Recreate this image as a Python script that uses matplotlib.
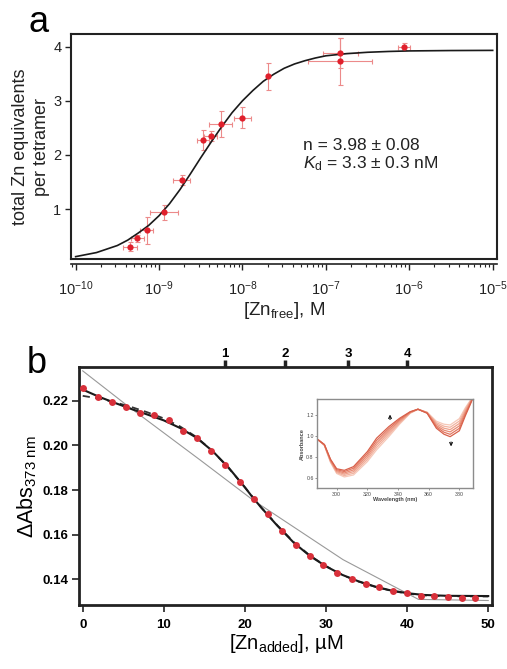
import numpy as np
import matplotlib
matplotlib.use("Agg")
import matplotlib.pyplot as plt
from matplotlib.ticker import LogLocator, NullFormatter, FormatStrFormatter, FixedLocator

plt.rcParams['font.family'] = ['Liberation Sans', 'DejaVu Sans']
plt.rcParams['mathtext.fontset'] = 'custom'
plt.rcParams['mathtext.rm'] = 'Liberation Sans'
plt.rcParams['mathtext.it'] = 'Liberation Sans:italic'
plt.rcParams['mathtext.bf'] = 'Liberation Sans:bold'

# ---------------- Panel a data ----------------
zn_free = [4.48e-10, 5.48e-10, 7.1e-10, 1.135e-9, 1.87e-9, 3.36e-9, 4.16e-9,
           5.47e-9, 9.95e-9, 2.0e-8, 1.48e-7, 1.48e-7, 8.65e-7]
zn_equiv = [0.31, 0.46, 0.61, 0.94, 1.54, 2.28, 2.35, 2.57, 2.69, 3.45, 3.88, 3.73, 4.00]
zn_equiv_err = [0.09, 0.06, 0.25, 0.14, 0.09, 0.18, 0.10, 0.24, 0.20, 0.25, 0.28, 0.43, 0.07]
zn_free_err_dec = [0.08, 0.078, 0.08, 0.168, 0.10, 0.076, 0.076, 0.14, 0.104, 0.0, 0.21, 0.38, 0.07]

fit_log_x = [-10, -9.75, -9.5, -9.375, -9.25, -9.125, -9.0, -8.875, -8.75, -8.625, -8.5,
             -8.375, -8.25, -8.125, -8.0, -7.875, -7.75, -7.625, -7.5, -7.375, -7.25,
             -7.125, -7.0, -6.75, -6.5, -6.25, -6.0, -5.5, -5.0]
fit_y = [0.125, 0.20, 0.33, 0.43, 0.56, 0.70, 0.88, 1.10, 1.36, 1.65, 1.95,
         2.24, 2.52, 2.78, 3.00, 3.19, 3.36, 3.49, 3.60, 3.68, 3.74,
         3.79, 3.83, 3.87, 3.895, 3.91, 3.92, 3.927, 3.93]

a_xticks = [1e-10, 1e-9, 1e-8, 1e-7, 1e-6, 1e-5]

# ---------------- Panel b data ----------------
zn_added = [0.0, 1.85, 3.6, 5.34, 7.06, 8.83, 10.64, 12.36, 14.1, 15.86, 17.6, 19.4,
            21.1, 22.8, 24.6, 26.3, 28.06, 29.66, 31.4, 33.16, 34.9, 36.56, 38.3,
            39.94, 41.67, 43.35, 45.0, 46.76, 48.4]
d_abs = [0.2256, 0.2217, 0.2194, 0.2172, 0.2146, 0.2135, 0.2112, 0.2066, 0.2034,
         0.1976, 0.1912, 0.1837, 0.1761, 0.1691, 0.1618, 0.1555, 0.1503, 0.1464,
         0.1430, 0.1403, 0.1379, 0.1364, 0.1348, 0.1337, 0.1325, 0.1327, 0.1321,
         0.1315, 0.1317]

fit1_x = [0, 2, 4, 6, 8, 10, 12, 14, 16, 18, 20, 21, 22, 24, 26, 28, 30, 32, 34,
          36, 38, 40, 42, 45, 50]
fit1_y = [0.2250, 0.2218, 0.2190, 0.2163, 0.2138, 0.2112, 0.2078, 0.2035, 0.1975,
          0.1900, 0.1812, 0.1765, 0.1722, 0.1640, 0.1565, 0.1505, 0.1458, 0.1420,
          0.1391, 0.1368, 0.1350, 0.1338, 0.1330, 0.1326, 0.1325]
fit2_x = [0, 2, 4, 6, 8, 10, 12, 14, 16, 18, 20, 22, 24, 26, 28, 30, 32, 34, 36,
          38, 40, 42, 45, 50]
fit2_y = [0.2222, 0.2210, 0.2193, 0.2172, 0.2148, 0.2121, 0.2085, 0.2038, 0.1975,
          0.1898, 0.1812, 0.1722, 0.1642, 0.1568, 0.1507, 0.1459, 0.1420, 0.1390,
          0.1367, 0.1349, 0.1336, 0.1328, 0.1324, 0.1323]
fit3_x = [0, 5.4, 14.5, 21.0, 32.1, 41.4, 50]
fit3_y = [0.2334, 0.2181, 0.1934, 0.1755, 0.1488, 0.1310, 0.1305]

top_tick_pos = [17.5, 25.0, 32.7, 40.0]
top_tick_labels = ['1', '2', '3', '4']

# inset spectra
wavelength = [288, 292, 296, 300, 305, 311, 320, 326, 334, 341, 348, 353, 359, 365,
              370, 374, 380, 384, 387, 390]
spec_0 = [0.963, 0.91, 0.75, 0.645, 0.612, 0.631, 0.757, 0.868, 0.994, 1.112, 1.216,
          1.254, 1.226, 1.140, 1.112, 1.105, 1.165, 1.270, 1.335, 1.40]
spec_1 = [0.963, 0.912, 0.756, 0.654, 0.625, 0.647, 0.776, 0.890, 1.013, 1.123, 1.219,
          1.254, 1.224, 1.127, 1.093, 1.083, 1.142, 1.255, 1.327, 1.40]
spec_2 = [0.963, 0.914, 0.762, 0.663, 0.638, 0.663, 0.795, 0.912, 1.032, 1.134, 1.222,
          1.254, 1.222, 1.114, 1.074, 1.061, 1.119, 1.240, 1.319, 1.40]
spec_3 = [0.963, 0.916, 0.768, 0.672, 0.650, 0.679, 0.814, 0.934, 1.051, 1.146, 1.225,
          1.254, 1.220, 1.100, 1.055, 1.039, 1.096, 1.225, 1.311, 1.40]
spec_4 = [0.963, 0.918, 0.774, 0.681, 0.663, 0.695, 0.833, 0.957, 1.070, 1.157, 1.228,
          1.254, 1.218, 1.087, 1.036, 1.016, 1.073, 1.210, 1.303, 1.40]
spec_5 = [0.963, 0.920, 0.780, 0.690, 0.675, 0.710, 0.852, 0.979, 1.089, 1.168, 1.231,
          1.254, 1.216, 1.074, 1.017, 0.994, 1.050, 1.195, 1.295, 1.40]
spectra = [spec_0, spec_1, spec_2, spec_3, spec_4, spec_5]
spec_colors = ['#f6c8b8', '#f2b3a0', '#eea08a', '#e88b74', '#e2765f', '#d8604a']

# ---------------- Figure ----------------
fig = plt.figure(figsize=(5.07, 6.69), dpi=100)

# ===== Panel a =====
axA = fig.add_axes([0.140, 0.613, 0.840, 0.336])
axA.set_xscale('log')
axA.set_xlim(10 ** -10.056, 10 ** -4.95)
axA.set_ylim(0.083, 4.23)

xf = np.array(zn_free)
dec = np.array(zn_free_err_dec)
xerr = [xf - xf * 10 ** (-dec), xf * 10 ** dec - xf]
axA.errorbar(zn_free, zn_equiv, yerr=zn_equiv_err, xerr=xerr, fmt='none',
             ecolor='#ec8a8a', elinewidth=0.8, capsize=1.8, capthick=0.8, zorder=2)
axA.plot(10 ** np.array(fit_log_x), fit_y, color='#1a1a1a', lw=1.2, zorder=3)
axA.plot(zn_free, zn_equiv, 'o', color='#e0202c', ms=4.5, mec='none', zorder=4)

axA.set_yticks([1, 2, 3, 4])
axA.xaxis.set_major_locator(FixedLocator(a_xticks))
axA.xaxis.set_minor_locator(LogLocator(base=10, subs=np.arange(2, 10), numticks=100))
axA.xaxis.set_minor_formatter(NullFormatter())
axA.tick_params(axis='both', which='major', direction='out', length=4, width=1.0,
                labelsize=10.5, color='#222222', labelcolor='#222222', pad=3)
axA.tick_params(axis='x', which='major', length=4.5, pad=6)
axA.tick_params(axis='x', which='minor', direction='out', length=2.5, width=0.8,
                color='#222222')
for s in axA.spines.values():
    s.set_linewidth(1.5)
    s.set_color('#222222')
# offset axis line below the frame (as in the reference)
axA.spines['bottom'].set_position(('outward', 4))
axA.spines['bottom'].set_linewidth(1.2)
axA.plot([0, 1], [0, 0], transform=axA.transAxes, color='#222222', lw=1.5,
         clip_on=False, zorder=5)

axA.set_ylabel('total Zn equivalents\nper tetramer', fontsize=13, color='#222222',
               labelpad=2, linespacing=1.3)
axA.set_xlabel(r'[Zn$_{\mathregular{free}}$], M', fontsize=13.5, color='#222222', labelpad=2)
axA.text(10 ** -7.275, 2.17, 'n = 3.98 ± 0.08', fontsize=12.5, color='#222222',
         va='center', ha='left')
axA.text(10 ** -7.275, 1.84, r'$\mathit{K}_{\mathregular{d}}$ = 3.3 ± 0.3 nM', fontsize=12.5,
         color='#222222', va='center', ha='left')
fig.text(28 / 507, 1 - 31.7 / 669, 'a', fontsize=26, va='baseline', ha='left')

# ===== Panel b =====
axB = fig.add_axes([0.1564, 0.0957, 0.8146, 0.3553])
axB.set_xlim(-0.42, 50.5)
axB.set_ylim(0.1285, 0.235)
axB.plot(fit3_x, fit3_y, color='#999999', lw=0.8, zorder=2)
axB.plot(fit2_x, fit2_y, color='#333333', lw=1.3, ls=(0, (4, 3)), zorder=3)
axB.plot(fit1_x, fit1_y, color='#1a1a1a', lw=1.5, zorder=3)
axB.plot(zn_added, d_abs, 'o', color='#d8303a', ms=5, mec='none', zorder=4)

axB.set_xticks([0, 10, 20, 30, 40, 50])
axB.set_yticks([0.14, 0.16, 0.18, 0.20, 0.22])
axB.yaxis.set_major_formatter(FormatStrFormatter('%.2f'))
axB.tick_params(axis='both', direction='out', length=5, width=1.2, labelsize=9.5, pad=3,
                color='#222222')
for lab in axB.get_xticklabels() + axB.get_yticklabels():
    lab.set_fontweight('bold')
axB.tick_params(axis='x', pad=5)
for s in axB.spines.values():
    s.set_linewidth(2.0)
    s.set_color('#222222')

top = axB.secondary_xaxis('top')
top.set_xticks(top_tick_pos)
top.set_xticklabels(top_tick_labels)
top.tick_params(direction='out', length=5, width=2.5, labelsize=9.5, pad=0.5, color='#222222')
for lab in top.get_xticklabels():
    lab.set_fontweight('bold')
top.spines['top'].set_visible(False)

axB.set_ylabel(r'$\Delta$Abs$_{\mathregular{373\ nm}}$', fontsize=15.5, labelpad=2)
axB.set_xlabel(r'[Zn$_{\mathregular{added}}$], µM', fontsize=14.5, labelpad=1)
fig.text(26.7 / 507, 1 - 372.7 / 669, 'b', fontsize=26, va='baseline', ha='left')

# inset
axI = axB.inset_axes([0.576, 0.491, 0.378, 0.376])
for sp, c in zip(spectra, spec_colors):
    axI.plot(wavelength, sp, color=c, lw=0.9)
axI.set_xlim(287.3, 389.1)
axI.set_ylim(0.505, 1.352)
axI.set_xticks([300, 320, 340, 360, 380])
axI.set_yticks([0.6, 0.8, 1.0, 1.2])
axI.yaxis.set_major_formatter(FormatStrFormatter('%.1f'))
axI.tick_params(direction='out', length=1.5, width=0.5, labelsize=3.8, pad=1,
                color='#666666', labelcolor='#444444')
for s in axI.spines.values():
    s.set_linewidth(1.0)
    s.set_color('#8c8c8c')
axI.set_xlabel('Wavelength (nm)', fontsize=4, labelpad=0.5, fontweight='bold', color='#444444')
axI.set_ylabel('Absorbance', fontsize=4, labelpad=1, fontweight='bold', color='#444444')
axI.annotate('', xy=(334.8, 1.23), xytext=(334.8, 1.13),
             arrowprops=dict(arrowstyle='->', lw=0.8, color='#111111', mutation_scale=5))
axI.annotate('', xy=(374.6, 0.875), xytext=(374.6, 0.97),
             arrowprops=dict(arrowstyle='->', lw=0.8, color='#111111', mutation_scale=5))

fig.savefig('out.png', dpi=100)
